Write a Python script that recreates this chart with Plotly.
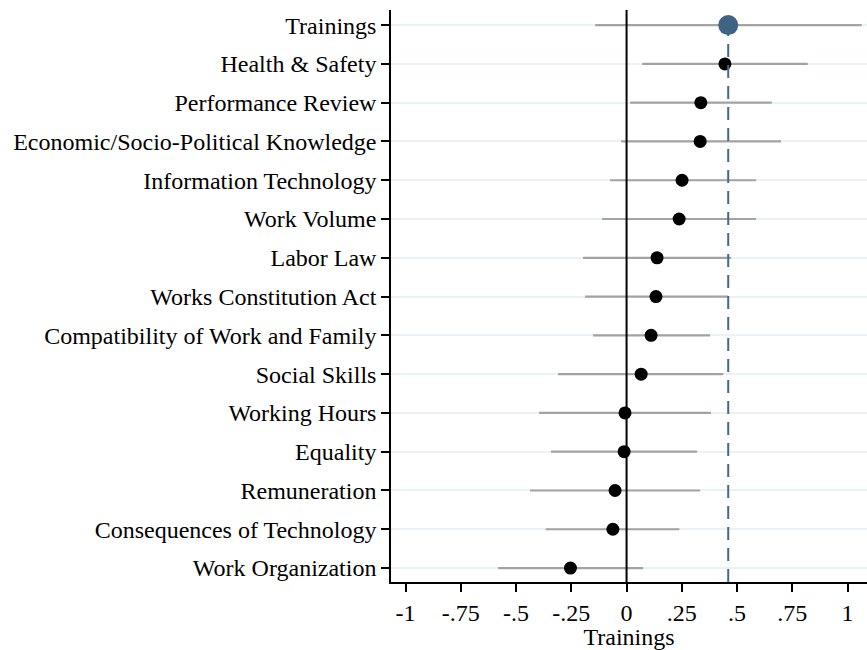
import plotly.graph_objects as go

# categories top to bottom
labels = ["Trainings", "Health & Safety", "Performance Review",
          "Economic/Socio-Political Knowledge", "Information Technology",
          "Work Volume", "Labor Law", "Works Constitution Act",
          "Compatibility of Work and Family", "Social Skills", "Working Hours",
          "Equality", "Remuneration", "Consequences of Technology",
          "Work Organization"]
estimate = [0.46, 0.445, 0.336, 0.333, 0.251, 0.238, 0.138, 0.133, 0.111,
            0.066, -0.007, -0.011, -0.052, -0.062, -0.254]
ci_low = [-0.142, 0.071, 0.016, -0.025, -0.075, -0.111, -0.197, -0.188,
          -0.152, -0.310, -0.396, -0.342, -0.437, -0.366, -0.581]
ci_high = [1.064, 0.82, 0.657, 0.699, 0.586, 0.586, 0.473, 0.459, 0.378,
           0.438, 0.382, 0.319, 0.333, 0.239, 0.075]
xticks = [-1, -0.75, -0.5, -0.25, 0, 0.25, 0.5, 0.75, 1]
xticklabels = ["-1", "-.75", "-.5", "-.25", "0", ".25", ".5", ".75", "1"]

n = len(labels)
ypos = [n - i for i in range(n)]
ref = estimate[0]
navy = "#45698a"

fig = go.Figure()

# confidence intervals
cx, cy = [], []
for lo, hi, y in zip(ci_low, ci_high, ypos):
    cx += [lo, hi, None]
    cy += [y, y, None]
fig.add_trace(go.Scatter(x=cx, y=cy, mode="lines",
                         line=dict(color="#a3a3a3", width=2.2), hoverinfo="skip"))

# zero line
fig.add_trace(go.Scatter(x=[0, 0], y=[0.6, 15.4], mode="lines",
                         line=dict(color="black", width=2), hoverinfo="skip"))

# other estimates
fig.add_trace(go.Scatter(x=estimate[1:], y=ypos[1:], mode="markers",
                         marker=dict(color="black", size=13)))

# reference line at the Trainings estimate
fig.add_trace(go.Scatter(x=[ref, ref], y=[0.64, 15.0], mode="lines",
                         line=dict(color=navy, width=2, dash="13px,8px"),
                         hoverinfo="skip"))

fig.add_trace(go.Scatter(x=[estimate[0]], y=[ypos[0]], mode="markers",
                         marker=dict(color="#3f6382", size=20)))

fig.update_layout(
    width=867, height=650,
    margin=dict(l=391, r=0, t=10, b=68),
    paper_bgcolor="white", plot_bgcolor="white",
    showlegend=False,
    font=dict(family="Liberation Serif", size=24, color="black"),
    xaxis=dict(range=[-1.066, 1.088], tickvals=xticks, ticktext=xticklabels,
               tickfont=dict(size=24),
               showgrid=False, zeroline=False, showline=True,
               linecolor="black", linewidth=1.5, ticks="outside", ticklen=8,
               tickcolor="black", tickwidth=1.5,
               title=dict(text="Trainings", standoff=0, font=dict(size=24))),
    yaxis=dict(range=[0.64, 15.39], tickvals=ypos, ticktext=labels,
               tickfont=dict(size=24),
               showgrid=True, gridcolor="#eaf2f3", gridwidth=2,
               zeroline=False, showline=True, linecolor="black", linewidth=1.5,
               ticks="outside", ticklen=8, tickcolor="black", tickwidth=1.5,
               automargin=False),
)

# page body has a default 8px margin, drop it so the figure fills the window
fig.write_html("out.html", config={"displayModeBar": False},
               post_script="document.body.style.margin='0';")
